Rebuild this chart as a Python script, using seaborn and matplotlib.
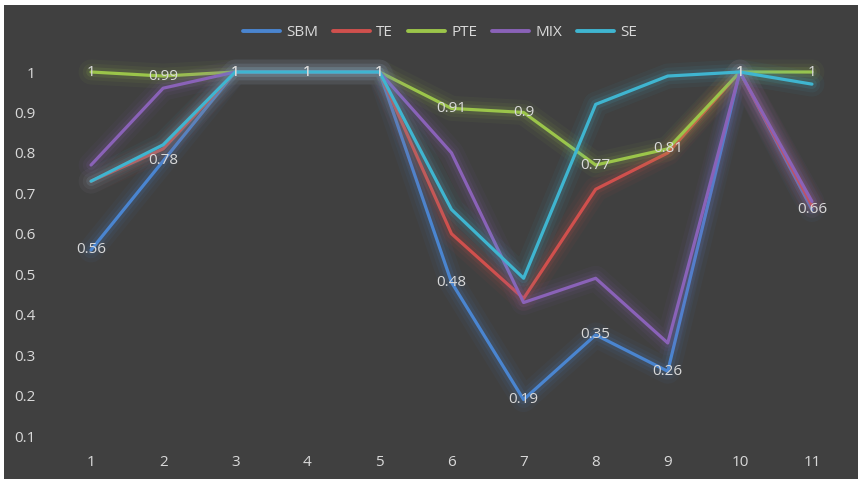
import pandas as pd
import matplotlib.pyplot as plt
import matplotlib.patheffects as pe
from matplotlib.patches import Rectangle
import seaborn as sns

# Values
steps = [1, 2, 3, 4, 5, 6, 7, 8, 9, 10, 11]
sbm = [0.56, 0.78, 1, 1, 1, 0.48, 0.19, 0.35, 0.26, 1, 0.66]
te = [0.73, 0.81, 1, 1, 1, 0.60, 0.44, 0.71, 0.80, 1, 0.67]
pte = [1, 0.99, 1, 1, 1, 0.91, 0.90, 0.77, 0.81, 1, 1]
mix = [0.77, 0.96, 1, 1, 1, 0.80, 0.43, 0.49, 0.33, 1, 0.68]
se = [0.73, 0.82, 1, 1, 1, 0.66, 0.49, 0.92, 0.99, 1, 0.97]

series_names = ["SBM", "TE", "PTE", "MIX", "SE"]
colors = {"SBM": "#4a85d0", "TE": "#d0504d", "PTE": "#9bc54a",
          "MIX": "#8a62b8", "SE": "#3fb5d0"}

df = pd.concat([
    pd.DataFrame({"step": steps, "value": vals, "series": name})
    for name, vals in zip(series_names, [sbm, te, pte, mix, se])
])

bg = "#404040"
txt = "#d9d9d9"

sns.set_theme(style="dark")
plt.rcParams["font.family"] = ["Open Sans", "DejaVu Sans"]

fig = plt.figure(figsize=(8.58, 4.79), dpi=100, facecolor="white")
# dark panel with a thin light border at top and left
fig.patches.append(Rectangle((4 / 858, 0), 1, 1 - 5 / 479, transform=fig.transFigure,
                             facecolor=bg, edgecolor="none", zorder=-10))
ax = fig.add_axes([55 / 858, 1 - 436 / 479, 793 / 858, 364 / 479])
ax.set_facecolor(bg)

sns.lineplot(data=df, x="step", y="value", hue="series", hue_order=series_names,
             palette=colors, linewidth=2.3, ax=ax, legend=False)

# soft glow around each line
for line in ax.lines:
    c = line.get_color()
    line.set_clip_on(False)
    line.set_path_effects([
        pe.Stroke(linewidth=18, foreground=c, alpha=0.05),
        pe.Stroke(linewidth=12, foreground=c, alpha=0.07),
        pe.Stroke(linewidth=7, foreground=c, alpha=0.12),
        pe.Normal(),
    ])

# data labels for SBM and PTE, centred on the points
for vals in [sbm, pte]:
    for x, v in zip(steps, vals):
        ax.text(x, v, f"{v:g}", ha="center", va="center", color=txt,
                fontsize=11, zorder=10)

ax.set_xlim(0.5, 11.5)
ax.set_ylim(0.1, 1.0)
ax.set_xticks(steps)
ax.set_yticks([0.1, 0.2, 0.3, 0.4, 0.5, 0.6, 0.7, 0.8, 0.9, 1.0])
ax.set_yticklabels(["0.1", "0.2", "0.3", "0.4", "0.5", "0.6", "0.7", "0.8", "0.9", "1"])
ax.tick_params(axis="y", length=0, pad=14, colors=txt, labelsize=11)
ax.tick_params(axis="x", length=0, pad=14, colors=txt, labelsize=11)
ax.set_xlabel("")
ax.set_ylabel("")
ax.grid(False)
for s in ax.spines.values():
    s.set_visible(False)

handles = [plt.Line2D([], [], color=colors[n], linewidth=2.8) for n in series_names]
leg = fig.legend(handles, series_names, loc="center", bbox_to_anchor=(440 / 858, 1 - 33 / 479),
                 ncol=5, frameon=False, fontsize=11, handlelength=2.4,
                 columnspacing=1.0, handletextpad=0.4)
for t in leg.get_texts():
    t.set_color(txt)

fig.savefig("out.png", dpi=100, facecolor=fig.get_facecolor())
